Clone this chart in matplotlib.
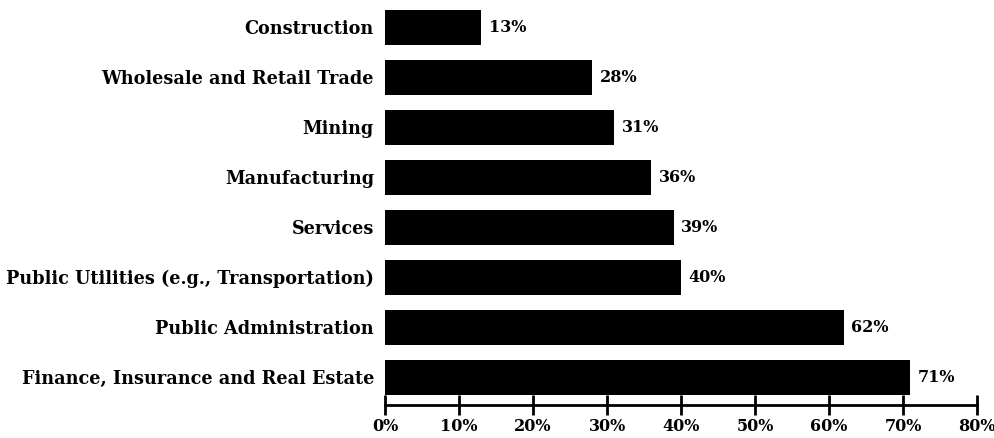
import matplotlib.pyplot as plt

# data (bottom to top)
industries = ["Finance, Insurance and Real Estate", "Public Administration",
              "Public Utilities (e.g., Transportation)", "Services",
              "Manufacturing", "Mining", "Wholesale and Retail Trade",
              "Construction"]
pct = [71, 62, 40, 39, 36, 31, 28, 13]
xticks = [0, 10, 20, 30, 40, 50, 60, 70, 80]

plt.rcParams['font.family'] = ['DejaVu Serif']

fig = plt.figure(figsize=(9.95, 4.38), dpi=100)
ax = fig.add_axes([0.387, 0.075, 0.595, 0.925])

ypos = range(len(industries))
ax.barh(ypos, pct, height=0.7, color='black')

for y, v in zip(ypos, pct):
    ax.text(v + 1.0, y, f"{v}%", va='center', ha='left', fontsize=11.5, fontweight='bold')

ax.set_yticks(list(ypos))
ax.set_yticklabels(industries, fontsize=12.7, fontweight='bold')
ax.tick_params(axis='y', length=0, pad=8)

ax.set_xlim(0, 80)
ax.set_ylim(-0.56, 7.54)
ax.set_xticks(xticks)
ax.set_xticklabels([f"{t}%" for t in xticks], fontsize=11.5, fontweight='bold')
ax.tick_params(axis='x', direction='inout', length=14, width=2, pad=2)

for s in ['top', 'right', 'left']:
    ax.spines[s].set_visible(False)
ax.spines['bottom'].set_linewidth(2)

fig.savefig("out.png", dpi=100)
